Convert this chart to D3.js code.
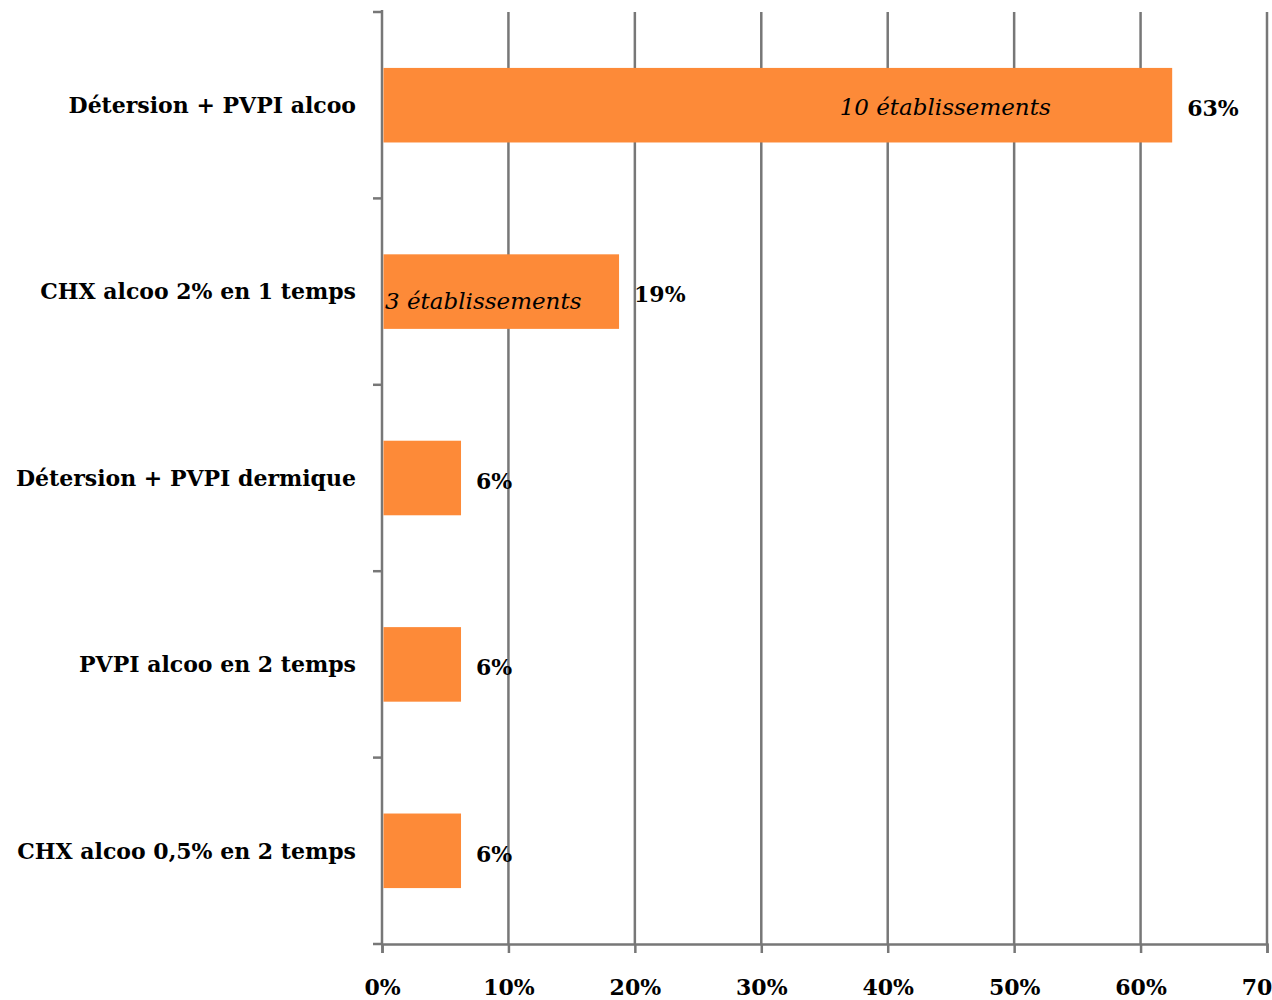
<!DOCTYPE html>
<html lang="fr">
<head>
    <meta charset="UTF-8">
    <title>Antiseptiques</title>
    <script src="https://d3js.org/d3.v7.min.js"></script>
    <style>
        body { margin: 0; background: #fff; }
        text { font-family: "DejaVu Serif", serif; fill: #000; }
    </style>
</head>
<body>
<svg id="chart"></svg>
<script>
    const categories = [
        "Détersion + PVPI alcoo",
        "CHX alcoo 2% en 1 temps",
        "Détersion + PVPI dermique",
        "PVPI alcoo en 2 temps",
        "CHX alcoo 0,5% en 2 temps"
    ];
    // share of establishments (10, 3, 1, 1, 1 out of 16)
    const values = [0.625, 0.1875, 0.0625, 0.0625, 0.0625];
    const notes = ["10 établissements", "3 établissements", "", "", ""];
    const xTicks = [0, 0.1, 0.2, 0.3, 0.4, 0.5, 0.6, 0.7];

    const width = 1272, height = 1000;
    const margin = {top: 12, right: 5, bottom: 56, left: 382};
    const gridColour = "#777777";

    const svg = d3.select("#chart").attr("width", width).attr("height", height);

    const x = d3.scaleLinear().domain([0, 0.7]).range([margin.left, width - margin.right]);
    const y = d3.scaleBand().domain(categories)
        .range([margin.top, height - margin.bottom])
        .paddingInner(0.6).paddingOuter(0.3);

    // vertical gridlines
    svg.append("g").selectAll("line")
        .data(xTicks.slice(1))
        .join("line")
        .attr("x1", d => x(d)).attr("x2", d => x(d))
        .attr("y1", margin.top).attr("y2", height - margin.bottom)
        .attr("stroke", gridColour).attr("stroke-width", 2.5);

    // x axis
    const xAxis = svg.append("g")
        .attr("transform", `translate(0,${height - margin.bottom})`)
        .call(d3.axisBottom(x).tickValues(xTicks).tickFormat(d3.format(".0%"))
            .tickSize(9).tickPadding(26));
    xAxis.select(".domain").attr("stroke", gridColour).attr("stroke-width", 2.5);
    xAxis.selectAll(".tick line").attr("stroke", gridColour).attr("stroke-width", 2.5);
    xAxis.selectAll(".tick text").style("font-family", '"DejaVu Serif", serif')
        .style("font-size", "22px").style("font-weight", "bold").attr("fill", "#000");

    // y axis with ticks between categories
    const half = (y.step() - y.bandwidth()) / 2;
    const bounds = categories.map(c => y(c) - half).concat([height - margin.bottom]);
    const yAxis = svg.append("g");
    yAxis.append("line")
        .attr("x1", margin.left).attr("x2", margin.left)
        .attr("y1", margin.top - 2).attr("y2", height - margin.bottom)
        .attr("stroke", gridColour).attr("stroke-width", 2.5);
    yAxis.selectAll(".yt")
        .data(bounds)
        .join("line")
        .attr("class", "yt")
        .attr("x1", margin.left - 9).attr("x2", margin.left)
        .attr("y1", d => d).attr("y2", d => d)
        .attr("stroke", gridColour).attr("stroke-width", 2.5);
    yAxis.selectAll("text")
        .data(categories)
        .join("text")
        .attr("x", margin.left - 26)
        .attr("y", d => y(d) + y.bandwidth() / 2)
        .attr("dy", "0.35em")
        .attr("text-anchor", "end")
        .style("font-size", "22px")
        .style("font-weight", "bold")
        .text(d => d);

    // bars
    svg.append("g").selectAll("rect")
        .data(categories)
        .join("rect")
        .attr("x", x(0) + 1.5)
        .attr("y", d => y(d))
        .attr("width", (d, i) => x(values[i]) - x(0) - 1.5)
        .attr("height", y.bandwidth())
        .attr("fill", "#FD8A38");

    // value labels
    svg.append("g").selectAll("text")
        .data(categories)
        .join("text")
        .attr("x", (d, i) => x(values[i]) + 15)
        .attr("y", d => y(d) + y.bandwidth() / 2 + 3)
        .attr("dy", "0.35em")
        .style("font-size", "22px")
        .style("font-weight", "bold")
        .text((d, i) => Math.round(values[i] * 100) + "%");

    // notes inside bars
    svg.append("g").selectAll("text")
        .data(categories.filter((d, i) => notes[i]))
        .join("text")
        .attr("x", d => {
            const i = categories.indexOf(d);
            return i === 0 ? x(values[i]) - 227 : x(0) + 3;
        })
        .attr("y", d => y(d) + y.bandwidth() / 2 + (categories.indexOf(d) === 0 ? 2 : 9))
        .attr("dy", "0.35em")
        .attr("text-anchor", d => categories.indexOf(d) === 0 ? "middle" : "start")
        .style("font-size", "23px")
        .style("font-style", "italic")
        .text(d => notes[categories.indexOf(d)]);
</script>
</body>
</html>
